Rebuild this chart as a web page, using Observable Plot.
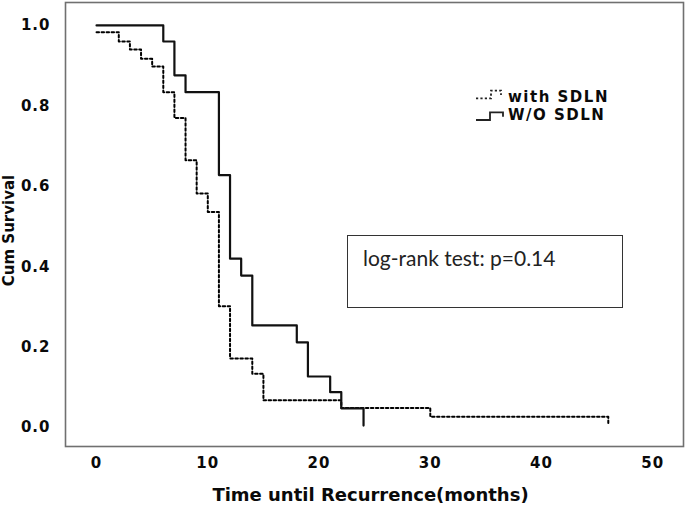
<!DOCTYPE html>
<html><head><meta charset="utf-8">
<script src="https://cdn.jsdelivr.net/npm/d3@7"></script>
<script src="https://cdn.jsdelivr.net/npm/@observablehq/plot@0.6"></script>
<style>
body{margin:0;background:#fff;}
#wrap{position:relative;width:685px;height:505px;overflow:hidden;}
#wrap svg text{font-family:"DejaVu Sans",sans-serif;font-weight:bold;}
#wrap g[aria-label="y-axis tick label"] text,#wrap g[aria-label="x-axis tick label"] text{letter-spacing:1px;}
#wrap g[aria-label="ytitle"] text{letter-spacing:1.2px;}
#wrap g[aria-label="xtitle"] text{letter-spacing:0.6px;}
#legend{position:absolute;left:470px;top:84px;width:180px;height:44px;}
#legend text{font-family:"DejaVu Sans",sans-serif;font-weight:bold;font-size:15px;letter-spacing:1.5px;fill:#0a0a0a;}
#box{position:absolute;left:347px;top:235px;width:274px;height:71px;border:1.3px solid #333;box-sizing:content-box;}
#box span{position:absolute;left:15px;top:9px;font-family:Lato,"Open Sans",sans-serif;font-size:21px;color:#222;white-space:nowrap;}
</style></head><body><div id="wrap"></div>
<script>
const xTicks = [0, 10, 20, 30, 40, 50];
const yTicks = [0.0, 0.2, 0.4, 0.6, 0.8, 1.0];
const withTime = [0, 2, 3, 4, 5, 6, 7, 8, 9, 10, 11, 12, 14, 15, 22, 30, 46];
const withSurv = [0.983, 0.960, 0.940, 0.917, 0.898, 0.834, 0.770, 0.665, 0.582, 0.536, 0.302, 0.172, 0.134, 0.068, 0.049, 0.027, 0.008];
const woTime = [0, 6, 7, 8, 11, 12, 13, 14, 18, 19, 21, 22, 24];
const woSurv = [1.0, 0.960, 0.876, 0.834, 0.628, 0.420, 0.378, 0.254, 0.212, 0.127, 0.088, 0.048, 0.005];
const seriesNames = ["with SDLN", "W/O SDLN"];
const yTitle = "Cum Survival";
const xTitle = "Time until Recurrence(months)";
const note = "log-rank test: p=0.14";

const withData = withTime.map((t, i) => ({t, s: withSurv[i]}));
const woData = woTime.map((t, i) => ({t, s: woSurv[i]}));

const plot = Plot.plot({
  width: 685, height: 505,
  marginLeft: 65, marginRight: 2, marginTop: 2, marginBottom: 59,
  x: {domain: [-2.79, 52.76]},
  y: {domain: [-0.047, 1.057]},
  style: {fontFamily: "DejaVu Sans", fontSize: "15px", color: "#0a0a0a", background: "white"},
  marks: [
    Plot.frame({stroke: "#707070", strokeWidth: 1.6}),
    Plot.axisX(xTicks, {tickSize: 0, tickPadding: 11, label: null, tickFormat: d => String(d), fontSize: 15, fill: "#0a0a0a"}),
    Plot.axisY(yTicks, {tickSize: 0, tickPadding: 15, label: null, tickFormat: d3.format(".1f"), fontSize: 15, fill: "#0a0a0a"}),
    Plot.line(withData, {x: "t", y: "s", curve: "step-after", stroke: "#000", strokeWidth: 2, strokeDasharray: "2.5,2.5"}),
    Plot.line(woData, {x: "t", y: "s", curve: "step-after", stroke: "#111", strokeWidth: 2.2}),
    Plot.text([yTitle], {frameAnchor: "left", textAnchor: "middle", lineAnchor: "middle", dx: -56, dy: 6, rotate: -90, fontSize: 15, fill: "#0a0a0a", ariaLabel: "ytitle"}),
    Plot.text([xTitle], {frameAnchor: "bottom", textAnchor: "middle", lineAnchor: "middle", dx: -4, dy: 49, fontSize: 18, fill: "#0a0a0a", ariaLabel: "xtitle"})
  ]
});
const wrap = document.getElementById("wrap");
wrap.appendChild(plot);

// legend
const lg = d3.select(wrap).append("svg").attr("id", "legend").attr("width", 180).attr("height", 44);
lg.append("path").attr("d", "M6,14.3H21V6.7H31V11").attr("fill", "none").attr("stroke", "#222").attr("stroke-width", 1.8).attr("stroke-dasharray", "2.2,2.2");
lg.append("path").attr("d", "M6,36H20V28.3H33V32.7").attr("fill", "none").attr("stroke", "#222").attr("stroke-width", 1.8);
lg.append("text").attr("x", 38).attr("y", 12.7).attr("dy", "0.35em").text(seriesNames[0]);
lg.append("text").attr("x", 38).attr("y", 31).attr("dy", "0.35em").text(seriesNames[1]);

// note box
const box = document.createElement("div");
box.id = "box";
const sp = document.createElement("span");
sp.textContent = note;
box.appendChild(sp);
wrap.appendChild(box);
</script></body></html>
